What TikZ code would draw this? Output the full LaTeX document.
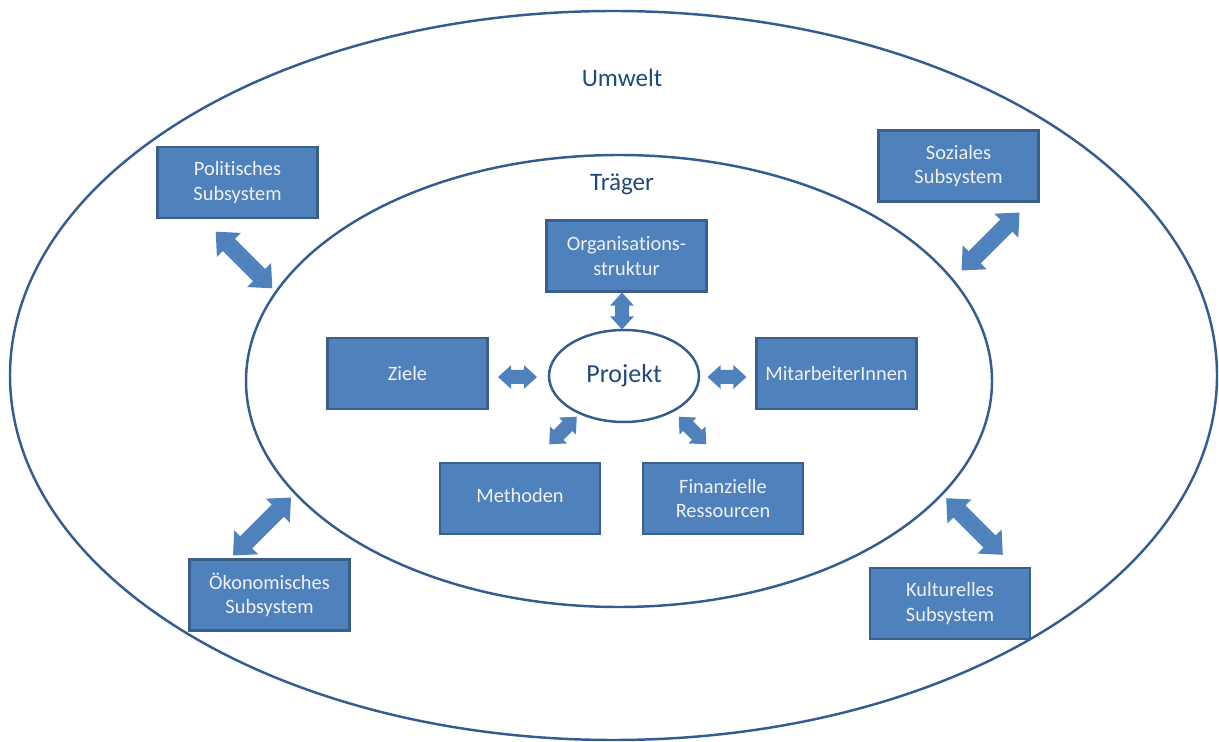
\documentclass[tikz,border=0pt]{standalone}
\usepackage{fontspec}
\setmainfont{Carlito}[RawFeature=-liga]
\usetikzlibrary{shapes.geometric}
\definecolor{boxfill}{HTML}{4F81BD}
\definecolor{boxline}{HTML}{3A5F8B}
\definecolor{ringline}{HTML}{335D91}
\definecolor{labeltext}{HTML}{1F497D}
\definecolor{arrowfill}{HTML}{4F81BD}
\newcommand\blockarrow[6]{% name, center, angle, length, shaft width, head width
  \begin{scope}[shift={#2}, rotate=#3]
    \pgfmathsetmacro\hl{#4/2}\pgfmathsetmacro\hs{#5/2}\pgfmathsetmacro\hw{#6/2}\pgfmathsetmacro\hh{#6*0.55}
    \fill[arrowfill] (-\hl,0) -- (-\hl+\hh,\hw) -- (-\hl+\hh,\hs) -- (\hl-\hh,\hs) -- (\hl-\hh,\hw)
      -- (\hl,0) -- (\hl-\hh,-\hw) -- (\hl-\hh,-\hs) -- (-\hl+\hh,-\hs) -- (-\hl+\hh,-\hw) -- cycle;
    \coordinate (#1) at (0,0);
  \end{scope}}
\begin{document}
\begin{tikzpicture}[x=0.02cm, y=-0.02cm,
  ring/.style={draw=ringline, line width=1.4pt},
  sysbox/.style={draw=boxline, line width=1.4pt, fill=boxfill, minimum width=3.2cm, minimum height=1.42cm,
    text=white!94!black, font=\fontsize{11.6}{13.8}\selectfont, align=center, inner sep=2pt},
  ringlabel/.style={text=labeltext, font=\fontsize{14.3}{16}\selectfont}]
\useasboundingbox (0,0) rectangle (1219,742);
% rings
\draw[ring] (613.5,375.5) ellipse [x radius=603.5, y radius=364.5];
\draw[ring] (619,381) ellipse [x radius=373, y radius=226];
\node[ring, ellipse, fill=white, minimum width=3cm, minimum height=1.84cm, inner sep=0pt,
  text=labeltext, font=\fontsize{14.8}{16}\selectfont] (projekt) at (624,376) {Projekt};
% labels
\node[ringlabel] (umwelt) at (622,78) {Umwelt};
\node[ringlabel] (traeger) at (622,184) {Träger};
% boxes
\node[sysbox] (pol) at (237.5,182.5) {Politisches\\Subsystem};
\node[sysbox] (soz) at (958.5,166) {Soziales\\Subsystem};
\node[sysbox] (oek) at (269.5,595) {Ökonomisches\\Subsystem};
\node[sysbox] (kul) at (950,603.5) {Kulturelles\\Subsystem};
\node[sysbox] (org) at (626.5,256) {Organisations-\\struktur};
\node[sysbox] (ziele) at (407.5,373.5) {Ziele};
\node[sysbox] (mit) at (836.5,373.5) {MitarbeiterInnen};
\node[sysbox] (meth) at (520,498.5) {\raisebox{3.4pt}{Methoden}};
\node[sysbox] (fin) at (723,498.5) {Finanzielle\\Ressourcen};
% block arrows
\blockarrow{apol}{(244,260)}{-45}{80}{17}{34}
\blockarrow{asoz}{(990.5,241.5)}{45}{82}{17}{34}
\blockarrow{aoek}{(262,526.5)}{45}{82}{17}{34}
\blockarrow{akul}{(974.5,526.5)}{-45}{80}{17}{34}
\blockarrow{aorg}{(622,311)}{90}{37}{14}{24}
\blockarrow{aziele}{(517.5,377)}{0}{39}{14}{24}
\blockarrow{amit}{(727,377)}{0}{39}{14}{24}
\blockarrow{ameth}{(563,430.5)}{45}{39}{14}{24}
\blockarrow{afin}{(692.5,430.5)}{-45}{39}{14}{24}
\end{tikzpicture}
\end{document}
